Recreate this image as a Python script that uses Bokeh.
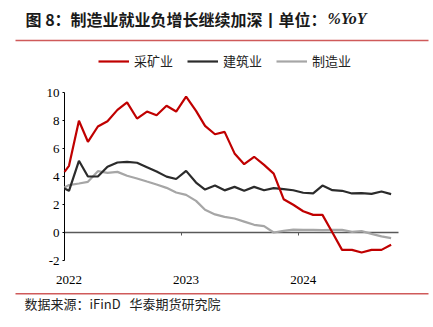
import pandas as pd
from datetime import datetime
from bokeh.plotting import figure
from bokeh.models import (ColumnDataSource, Range1d, FixedTicker, DatetimeTickFormatter,
                          DatetimeAxis, LinearAxis, Legend, LegendItem, Label,
                          BoxAnnotation, CustomJSTickFormatter)
from bokeh.embed import file_html
from bokeh.resources import INLINE

# ---- data (YoY %, monthly) ----
months = [pd.Timestamp("2022-01-01")] + list(
    pd.date_range("2022-01-01", "2024-10-01", freq="MS") + pd.Timedelta(days=14))
mining = [4.33, 4.76, 7.98, 6.48, 7.57, 7.95, 8.76, 9.29, 8.14, 8.64, 8.38, 9.05, 8.64,
          9.71, 8.69, 7.62, 7.02, 7.19, 5.65, 4.88, 5.41, 4.83, 4.21, 2.38, 1.98,
          1.52, 1.26, 1.26, 0.0, -1.24, -1.24, -1.43, -1.24, -1.24, -0.88]
construction = [3.14, 2.98, 5.12, 4.0, 4.0, 4.69, 5.0, 5.05, 4.98, 4.66, 4.35, 3.99, 3.82,
                4.4, 3.57, 3.07, 3.35, 3.01, 3.26, 2.98, 3.26, 3.02, 3.17, 3.1, 3.02,
                2.84, 2.8, 3.35, 3.02, 2.98, 2.79, 2.81, 2.76, 2.93, 2.74]
manufacturing = [3.22, 3.39, 3.5, 3.62, 4.38, 4.26, 4.33, 4.05, 3.86, 3.64, 3.43, 3.19, 2.86,
                 2.69, 2.26, 1.62, 1.29, 1.12, 1.0, 0.78, 0.55, 0.45, 0.0, 0.12, 0.2,
                 0.19, 0.19, 0.17, 0.19, 0.19, 0.05, 0.1, -0.1, -0.28, -0.4]
series_names = ["采矿业", "建筑业", "制造业"]
year_labels = ["2022", "2023", "2024"]
y_ticks = [-2, 0, 2, 4, 6, 8, 10]
title_text = "图 8：制造业就业负增长继续加深丨单位："
title_unit = "%YoY"
source_text = "数据来源：iFinD\u00a0\u00a0\u00a0华泰期货研究院"

src = ColumnDataSource(dict(date=months, mining=mining, construction=construction,
                            manufacturing=manufacturing))

CJK = "Noto Sans CJK SC"
SERIF = "Liberation Serif"
W, H = 433, 327

# plot area: 2022-01-01 .. 2024-11-07 spans x 64..398 px; y -2..10 spans 260..92 px
ax_start = pd.Timestamp("2022-01-01")
ax_end = pd.Timestamp("2024-11-07")
ms_per_px = (ax_end - ax_start).value / 1e6 / (398 - 64)
x0 = ax_start.value / 1e6 - 64 * ms_per_px
x1 = ax_end.value / 1e6 + (W - 398) * ms_per_px
px_per_unit = (260 - 92) / 12
y_top = 10 + 92 / px_per_unit
y_bot = -2 - (H - 260) / px_per_unit

p = figure(width=W, height=H, x_axis_type=None, y_axis_type=None, output_backend="svg",
           toolbar_location=None, min_border=0,
           x_range=Range1d(x0, x1), y_range=Range1d(y_bot, y_top))
p.outline_line_color = None
p.background_fill_color = "white"
p.border_fill_color = "white"
p.grid.visible = False

start_ms = ax_start.value / 1e6
end_ms = ax_end.value / 1e6

# y axis at the left edge of the plot area
ya = LinearAxis(fixed_location=start_ms, bounds=(-2, 10), ticker=FixedTicker(ticks=y_ticks))
ya.major_label_overrides = {t: str(t) for t in y_ticks}
ya.axis_line_color = "black"
ya.axis_line_width = 1
ya.major_tick_out = 2
ya.major_tick_in = 0
ya.major_tick_line_color = "black"
ya.minor_tick_line_color = None
ya.major_label_standoff = 3
ya.major_label_text_font = SERIF
ya.major_label_text_font_size = "13px"
ya.major_label_text_color = "black"
p.add_layout(ya, "left")

# year labels below the plot area
xa = DatetimeAxis(fixed_location=-2,
                  ticker=FixedTicker(ticks=[pd.Timestamp(f"{y}-01-15").value / 1e6 for y in year_labels]),
                  formatter=DatetimeTickFormatter(years="%Y", months="%Y", days="%Y", hours="%Y"))
xa.axis_line_color = None
xa.major_tick_line_color = None
xa.minor_tick_line_color = None
xa.major_label_standoff = 9
xa.major_label_text_font = SERIF
xa.major_label_text_font_size = "13px"
xa.major_label_text_color = "black"
p.add_layout(xa, "below")

# zero line with year ticks
zax = DatetimeAxis(fixed_location=0,
                   bounds=(ax_start.to_pydatetime(), ax_end.to_pydatetime()),
                   ticker=FixedTicker(ticks=[pd.Timestamp(f"{y}-01-01").value / 1e6 for y in year_labels[1:]]),
                   formatter=CustomJSTickFormatter(code="return ''"))
zax.axis_line_color = "#595959"
zax.axis_line_width = 1.4
zax.major_tick_line_color = "#595959"
zax.major_tick_out = 3
zax.major_tick_in = 0
zax.minor_tick_line_color = None
p.add_layout(zax, "below")

r_mfg = p.line("date", "manufacturing", source=src, line_color="#A6A6A6", line_width=2.2)
r_con = p.line("date", "construction", source=src, line_color="#2B2B2B", line_width=2.2)
r_min = p.line("date", "mining", source=src, line_color="#C00000", line_width=2.2)
for r in (r_mfg, r_con, r_min):
    r.level = "overlay"

legend = Legend(items=[LegendItem(label=series_names[0], renderers=[r_min]),
                       LegendItem(label=series_names[1], renderers=[r_con]),
                       LegendItem(label=series_names[2], renderers=[r_mfg])],
                location=(98, H - 70), orientation="horizontal",
                glyph_width=31, glyph_height=16, label_height=16, label_standoff=5,
                spacing=14, padding=0, margin=0, border_line_alpha=0,
                background_fill_alpha=0, label_text_font=CJK,
                label_text_font_size="13px", label_text_color="#222222")
p.add_layout(legend)

# title and footer
p.add_layout(Label(x=25, y=H - 18, x_units="screen", y_units="screen",
                   text=title_text, text_font=CJK, text_font_style="bold",
                   text_font_size="16px", text_baseline="middle", text_color="#1a1a1a"))
p.add_layout(Label(x=327, y=H - 18, x_units="screen", y_units="screen",
                   text=title_unit, text_font=SERIF, text_font_style="bold italic",
                   text_font_size="16px", text_baseline="middle", text_color="#1a1a1a"))
p.add_layout(Label(x=24, y=H - 303, x_units="screen", y_units="screen",
                   text=source_text, text_font=CJK, text_font_size="13px",
                   text_baseline="middle", text_color="#222222"))
for yc in (H - 40, H - 293.3):
    p.add_layout(BoxAnnotation(left=15, right=428, bottom=yc - 0.75, top=yc + 0.75,
                               left_units="screen", right_units="screen",
                               bottom_units="screen", top_units="screen",
                               fill_color="#CF5A5A", fill_alpha=1, line_alpha=0))

open("out.html", "w").write(file_html(p, INLINE))
